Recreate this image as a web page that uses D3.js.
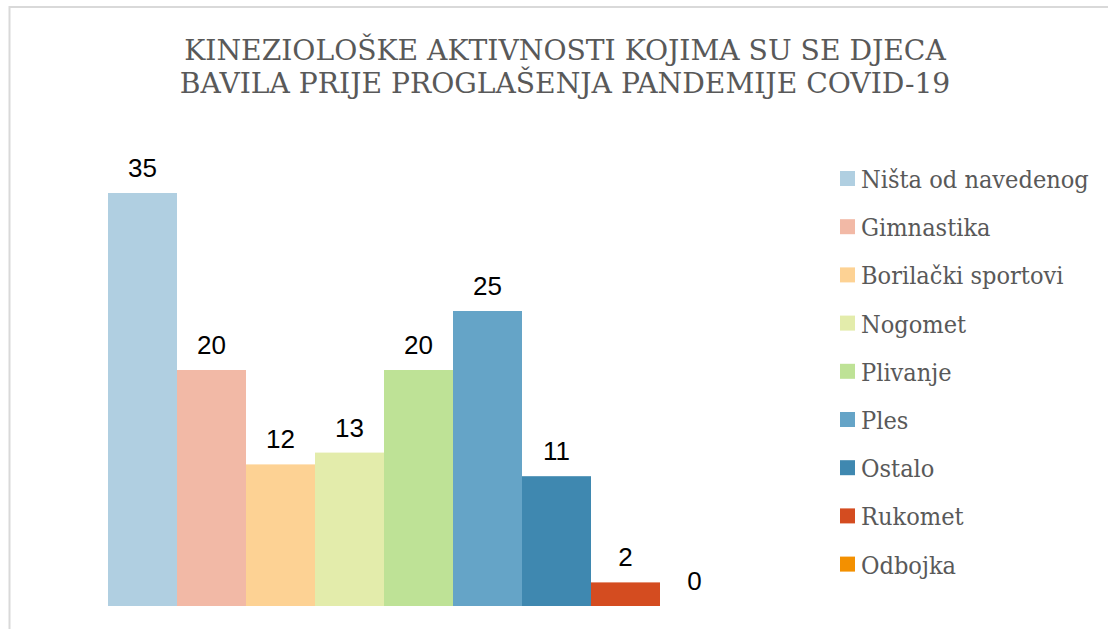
<!DOCTYPE html>
<html lang="hr">
  <head>
    <meta charset="utf-8">
    <title>Kineziološke aktivnosti</title>
    <script src="https://cdn.jsdelivr.net/npm/d3@7"></script>
    <style>
      body { margin: 0; background: #fff; }
    </style>
  </head>
  <body>
    <svg class="chart"></svg>
    <script>
      var categories = ["Ništa od navedenog", "Gimnastika", "Borilački sportovi", "Nogomet",
                        "Plivanje", "Ples", "Ostalo", "Rukomet", "Odbojka"];
      var values = [35, 20, 12, 13, 20, 25, 11, 2, 0];
      var colors = ["#b0cfe1", "#f2b9a6", "#fdd294", "#e3ecab", "#bee296",
                    "#65a4c7", "#3f88b0", "#d44c20", "#f39000"];
      var titleLines = ["KINEZIOLOŠKE AKTIVNOSTI KOJIMA SU SE DJECA",
                        "BAVILA PRIJE PROGLAŠENJA PANDEMIJE COVID-19"];

      var width = 1108, height = 629;
      var serif = "'DejaVu Serif', serif";

      var svg = d3.select(".chart")
          .attr("width", width)
          .attr("height", height);

      // chart frame (runs off the right and bottom edge)
      svg.append("rect")
          .attr("x", 9.5).attr("y", 7)
          .attr("width", 1200).attr("height", 700)
          .attr("fill", "none")
          .attr("stroke", "#d9d9d9")
          .attr("stroke-width", 2);

      // title, squeezed horizontally to the width of a Times-like face
      var title = svg.append("g").selectAll("text")
          .data(titleLines)
          .enter().append("text")
            .attr("text-anchor", "middle")
            .style("font-family", serif)
            .style("font-size", "27.5px")
            .style("fill", "#595959")
            .text(function(d) { return d; });
      var tk = 762 / title.node().getComputedTextLength();
      title.attr("transform", function(d, i) {
        return "translate(565," + (60 + i * 33) + ") scale(" + tk + ",1)";
      });

      var x = d3.scaleBand().domain(categories).range([108, 729]).padding(0);
      var y = d3.scaleLinear().domain([0, 35]).range([606, 193]);
      var color = d3.scaleOrdinal().domain(categories).range(colors);

      var data = categories.map(function(c, i) { return {name: c, value: values[i]}; });

      svg.append("g").selectAll(".bar")
          .data(data)
          .enter().append("rect")
            .attr("class", "bar")
            .attr("x", function(d) { return x(d.name); })
            .attr("y", function(d) { return y(d.value); })
            .attr("width", x.bandwidth())
            .attr("height", function(d) { return y(0) - y(d.value); })
            .attr("fill", function(d) { return color(d.name); });

      svg.append("g").selectAll(".label")
          .data(data)
          .enter().append("text")
            .attr("class", "label")
            .attr("x", function(d) { return x(d.name) + x.bandwidth() / 2; })
            .attr("y", function(d) { return y(d.value) - 16; })
            .attr("text-anchor", "middle")
            .style("font-family", "'Liberation Sans', Arial, sans-serif")
            .style("font-size", "26px")
            .style("fill", "#000")
            .text(function(d) { return d.value; });

      var legend = svg.append("g")
          .attr("transform", "translate(840,171)");

      var item = legend.selectAll("g")
          .data(categories)
          .enter().append("g")
            .attr("transform", function(d, i) { return "translate(0," + i * 48.2 + ")"; });

      item.append("rect")
          .attr("width", 15).attr("height", 15)
          .attr("fill", function(d) { return color(d); });

      var ltext = item.append("text")
          .style("font-family", serif)
          .style("font-size", "25px")
          .style("fill", "#595959")
          .text(function(d) { return d; });
      var lk = 228 / ltext.node().getComputedTextLength();
      ltext.attr("transform", "translate(21,17) scale(" + lk + ",1)");
    </script>
  </body>
</html>
